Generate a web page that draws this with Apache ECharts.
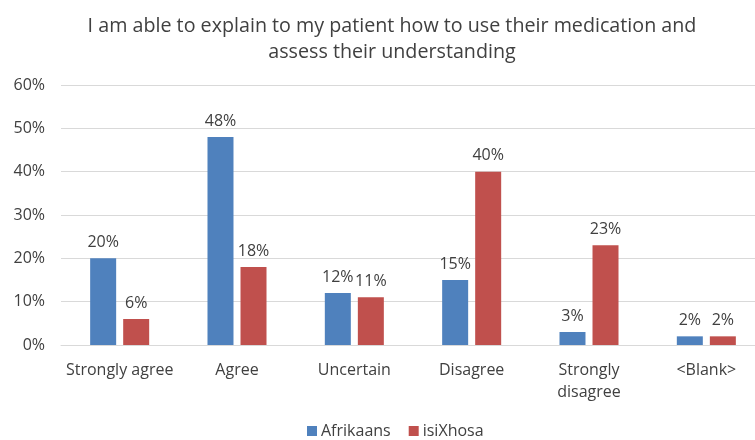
<!DOCTYPE html>
<html>
<head>
<meta charset="utf-8">
<script src="https://cdn.jsdelivr.net/npm/echarts@6/dist/echarts.min.js"></script>
<style>
  html, body { margin: 0; padding: 0; background: #fff; overflow: hidden; }
  /* the chart is slightly wider than the window so the last group sits near the edge */
  #chart { width: 765px; height: 440px; }
</style>
</head>
<body>
<div id="chart"></div>
<script>
// Survey responses by language group (percent of respondents)
const categories = ['Strongly agree', 'Agree', 'Uncertain', 'Disagree', 'Strongly\ndisagree', '<Blank>'];
const afrikaans = [20, 48, 12, 15, 3, 2];
const isiXhosa = [6, 18, 11, 40, 23, 2];
const yTicks = [0, 10, 20, 30, 40, 50, 60];

const FONT = '"Open Sans", "Noto Sans", sans-serif';
const TEXT = '#404040';

const chart = echarts.init(document.getElementById('chart'), null, { renderer: 'canvas' });

const labelStyle = {
  show: true,
  position: 'top',
  distance: 8,
  formatter: p => p.value + '%',
  color: TEXT,
  fontFamily: FONT,
  fontSize: 16
};

chart.setOption({
  animation: false,
  backgroundColor: '#fff',
  title: {
    text: 'I am able to explain to my patient how to use their medication and\nassess their understanding',
    left: 387,
    textAlign: 'center',
    top: 8,
    textStyle: {
      color: TEXT,
      fontFamily: FONT,
      fontSize: 19.7,
      fontWeight: 'normal',
      lineHeight: 26
    }
  },
  legend: {
    top: 418,
    left: 302,
    itemWidth: 10,
    itemHeight: 10,
    itemGap: 18,
    icon: 'rect',
    textStyle: { color: TEXT, fontFamily: FONT, fontSize: 16, padding: [0, 0, 0, -1] },
    data: ['Afrikaans', 'isiXhosa']
  },
  grid: { left: 61, right: 0, top: 85, bottom: 95, containLabel: false },
  xAxis: {
    type: 'category',
    data: categories,
    axisTick: { show: false },
    axisLine: { lineStyle: { color: '#d9d9d9', width: 1 } },
    axisLabel: {
      color: TEXT,
      fontFamily: FONT,
      fontSize: 16,
      margin: 14,
      lineHeight: 22,
      interval: 0
    }
  },
  yAxis: {
    type: 'value',
    min: yTicks[0],
    max: yTicks[yTicks.length - 1],
    interval: 10,
    axisLine: { show: false },
    axisTick: { show: false },
    splitLine: { lineStyle: { color: '#d9d9d9', width: 1 } },
    axisLabel: {
      color: TEXT,
      fontFamily: FONT,
      fontSize: 16,
      margin: 16,
      formatter: v => v + '%'
    }
  },
  series: [
    {
      name: 'Afrikaans',
      type: 'bar',
      data: afrikaans,
      barWidth: 26,
      barGap: '27%',
      itemStyle: { color: '#4f81bd' },
      label: labelStyle
    },
    {
      name: 'isiXhosa',
      type: 'bar',
      data: isiXhosa,
      barWidth: 26,
      barGap: '27%',
      itemStyle: { color: '#c0504d' },
      label: labelStyle
    }
  ]
});
</script>
</body>
</html>
